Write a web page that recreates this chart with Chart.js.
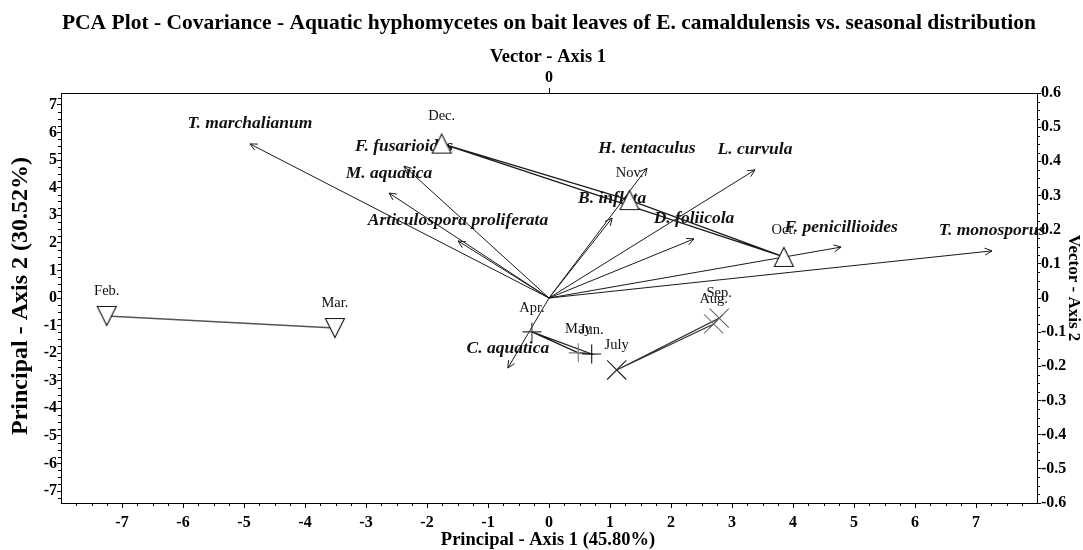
<!DOCTYPE html>
<html>
<head>
<meta charset="utf-8">
<script src="https://cdn.jsdelivr.net/npm/chart.js@4.4.1/dist/chart.umd.min.js"></script>
<style>
  html, body { margin: 0; padding: 0; background: #fff; }
  #wrap { width: 1083px; height: 550px; position: relative; }
</style>
</head>
<body>
<div id="wrap"><canvas id="c" width="1083" height="550"></canvas></div>
<script>
// ---- Data: sample scores (principal axes) ----
const autumnMonths = ['Dec.', 'Nov.', 'Oct.'];
const autumnAxis1 = [-1.76, 1.32, 3.85];
const autumnAxis2 = [5.60, 3.55, 1.49];

const winterMonths = ['Feb.', 'Mar.'];
const winterAxis1 = [-7.25, -3.51];
const winterAxis2 = [-0.65, -1.09];

const springMonths = ['Apr.', 'May', 'Jun.'];
const springAxis1 = [-0.28, 0.48, 0.70];
const springAxis2 = [-1.23, -1.99, -2.03];

const summerMonths = ['July', 'Aug.', 'Sep.'];
const summerAxis1 = [1.11, 2.70, 2.79];
const summerAxis2 = [-2.61, -0.94, -0.73];

// ---- Data: species vectors (vector axes) ----
const species = ['T. marchalianum', 'F. fusarioides', 'M. aquatica', 'Articulospora proliferata',
  'B. inflata', 'H. tentaculus', 'L. curvula', 'D. foliicola', 'F. penicillioides',
  'T. monosporus', 'C. aquatica'];
const vectorAxis1 = [-0.858, -0.416, -0.459, -0.261, 0.181, 0.281, 0.591, 0.416, 0.838, 1.271, -0.118];
const vectorAxis2 = [0.451, 0.386, 0.307, 0.167, 0.234, 0.380, 0.375, 0.173, 0.149, 0.138, -0.205];

// ---- Tick labels ----
const principalTicks1 = [-7, -6, -5, -4, -3, -2, -1, 0, 1, 2, 3, 4, 5, 6, 7];
const principalTicks2 = [-7, -6, -5, -4, -3, -2, -1, 0, 1, 2, 3, 4, 5, 6, 7];
const vectorTicks1 = [0];
const vectorTicks2 = [-0.6, -0.5, -0.4, -0.3, -0.2, -0.1, 0, 0.1, 0.2, 0.3, 0.4, 0.5, 0.6];

const titleText = 'PCA Plot - Covariance - Aquatic hyphomycetes on bait leaves of E. camaldulensis vs. seasonal distribution';

// ---- helpers ----
const SERIF = '"Liberation Serif", "Times New Roman", serif';
function pts(xs, ys) { return xs.map((x, i) => ({ x: x, y: ys[i] })); }
function closed(xs, ys) { const p = pts(xs, ys); if (p.length > 2) p.push(p[0]); return p; }

function triCanvas(up) {
  const c = document.createElement('canvas');
  c.width = 22; c.height = 22;
  const g = c.getContext('2d');
  g.fillStyle = '#fff'; g.strokeStyle = '#111'; g.lineWidth = 1.1;
  g.beginPath();
  if (up) { g.moveTo(11, 1.5); g.lineTo(20.5, 20.5); g.lineTo(1.5, 20.5); }
  else { g.moveTo(1.5, 1.5); g.lineTo(20.5, 1.5); g.lineTo(11, 20.5); }
  g.closePath(); g.fill(); g.stroke();
  return c;
}
const triUp = triCanvas(true);
const triDown = triCanvas(false);

const scaleFont = { family: SERIF, size: 16, weight: 'bold' };

const overlay = {
  id: 'overlay',
  beforeDraw(chart) {
    const ctx = chart.ctx;
    ctx.save(); ctx.fillStyle = '#fff'; ctx.fillRect(0, 0, chart.width, chart.height); ctx.restore();
  },
  beforeDatasetsDraw(chart) {
    const ctx = chart.ctx;
    const sx = chart.scales.x2, sy = chart.scales.y2;
    const ox = sx.getPixelForValue(0), oy = sy.getPixelForValue(0);
    ctx.save();
    ctx.strokeStyle = '#1a1a1a';
    ctx.lineWidth = 1;
    species.forEach((name, i) => {
      const tx = sx.getPixelForValue(vectorAxis1[i]);
      const ty = sy.getPixelForValue(vectorAxis2[i]);
      ctx.beginPath(); ctx.moveTo(ox, oy); ctx.lineTo(tx, ty); ctx.stroke();
      const ang = Math.atan2(ty - oy, tx - ox);
      const L = 8, a = 0.45;
      ctx.beginPath();
      ctx.moveTo(tx - L * Math.cos(ang - a), ty - L * Math.sin(ang - a));
      ctx.lineTo(tx, ty);
      ctx.lineTo(tx - L * Math.cos(ang + a), ty - L * Math.sin(ang + a));
      ctx.stroke();
    });
    // species labels
    ctx.fillStyle = '#111';
    ctx.font = 'italic bold 17.5px ' + SERIF;
    ctx.textAlign = 'center'; ctx.textBaseline = 'middle';
    species.forEach((name, i) => {
      const tx = sx.getPixelForValue(vectorAxis1[i]);
      const ty = sy.getPixelForValue(vectorAxis2[i]);
      ctx.fillText(name, tx, ty - 20);
    });
    // month labels
    const px = chart.scales.x, py = chart.scales.y;
    ctx.font = '14.5px ' + SERIF;
    const groups = [[autumnMonths, autumnAxis1, autumnAxis2, 27], [winterMonths, winterAxis1, winterAxis2, 25],
      [springMonths, springAxis1, springAxis2, 24], [summerMonths, summerAxis1, summerAxis2, 25]];
    groups.forEach(([labs, xs, ys, off]) => {
      labs.forEach((l, i) => ctx.fillText(l, px.getPixelForValue(xs[i]), py.getPixelForValue(ys[i]) - off));
    });
    ctx.restore();
  },
  afterDraw(chart) {
    const ctx = chart.ctx;
    const a = chart.chartArea;
    ctx.save();
    ctx.strokeStyle = '#000'; ctx.lineWidth = 1;
    // minor ticks
    const x = chart.scales.x, y = chart.scales.y, y2 = chart.scales.y2;
    ctx.beginPath();
    for (let v = -7.75; v <= 7.8; v += 0.25) {
      if (Math.abs(v - Math.round(v)) < 1e-6) continue;
      const p = Math.round(x.getPixelForValue(v)) + 0.5;
      ctx.moveTo(p, a.bottom); ctx.lineTo(p, a.bottom + 3);
    }
    for (let v = -7.25; v <= 7.3; v += 0.25) {
      if (Math.abs(v - Math.round(v)) < 1e-6) continue;
      const p = Math.round(y.getPixelForValue(v)) + 0.5;
      ctx.moveTo(a.left, p); ctx.lineTo(a.left - 3, p);
    }
    for (let k = -24; k <= 24; k++) {
      if (k % 4 === 0) continue;
      const p = Math.round(y2.getPixelForValue(k * 0.025)) + 0.5;
      ctx.moveTo(a.right, p); ctx.lineTo(a.right + 3, p);
    }
    ctx.stroke();
    // titles
    ctx.fillStyle = '#000';
    ctx.textAlign = 'center'; ctx.textBaseline = 'middle';
    ctx.font = 'bold 21.5px ' + SERIF;
    ctx.fillText(titleText, 549, 23);
    ctx.font = 'bold 18.5px ' + SERIF;
    ctx.fillText('Vector - Axis 1', 548, 57);
    ctx.fillText('Principal - Axis 1 (45.80%)', 548, 540);
    ctx.save(); ctx.translate(21, 296); ctx.rotate(-Math.PI / 2);
    ctx.font = 'bold 24px ' + SERIF;
    ctx.fillText('Principal - Axis 2 (30.52%)', 0, 0); ctx.restore();
    ctx.save(); ctx.translate(1073, 288); ctx.rotate(Math.PI / 2);
    ctx.font = 'bold 17px ' + SERIF;
    ctx.fillText('Vector - Axis 2', 0, 0); ctx.restore();
    ctx.restore();
  }
};

function axisCommon(extra) {
  return Object.assign({
    type: 'linear',
    grid: { drawOnChartArea: false, drawTicks: true, tickLength: 5, color: '#000', lineWidth: 1 },
    border: { display: true, color: '#000', width: 1 },
    ticks: { font: scaleFont, color: '#000', padding: 1, autoSkip: false, maxRotation: 0 }
  }, extra);
}

const markerBase = { pointBorderColor: '#111', pointBackgroundColor: '#fff', pointBorderWidth: 1.1, showLine: false, order: 0 };

new Chart(document.getElementById('c'), {
  type: 'scatter',
  data: {
    datasets: [
      Object.assign({ label: 'autumn', data: pts(autumnAxis1, autumnAxis2), pointStyle: triUp, pointRadius: 10 }, markerBase),
      Object.assign({ label: 'winter', data: pts(winterAxis1, winterAxis2), pointStyle: triDown, pointRadius: 10 }, markerBase),
      Object.assign({ label: 'spring', data: pts(springAxis1, springAxis2), pointStyle: 'cross', pointRadius: 9.5 }, markerBase,
        { pointBorderColor: ['#333', '#777', '#111'] }),
      Object.assign({ label: 'summer', data: pts(summerAxis1, summerAxis2), pointStyle: 'crossRot', pointRadius: 13.5 }, markerBase,
        { pointBorderColor: ['#222', '#777', '#666'] }),
      { label: 'autumnHull', data: closed(autumnAxis1, autumnAxis2), showLine: true, pointRadius: 0, borderColor: '#1a1a1a', borderWidth: 1.2, order: 1 },
      { label: 'winterHull', data: closed(winterAxis1, winterAxis2), showLine: true, pointRadius: 0, borderColor: '#555', borderWidth: 1.5, order: 1 },
      { label: 'springHull', data: closed(springAxis1, springAxis2), showLine: true, pointRadius: 0, borderColor: '#1a1a1a', borderWidth: 1.2, order: 1 },
      { label: 'summerHull', data: closed(summerAxis1, summerAxis2), showLine: true, pointRadius: 0, borderColor: '#333', borderWidth: 1.2, order: 1 }
    ]
  },
  options: {
    responsive: false,
    animation: false,
    layout: { padding: 0 },
    plugins: { legend: { display: false }, title: { display: false }, tooltip: { enabled: false } },
    scales: {
      x: axisCommon({
        position: 'bottom', min: -8, max: 8,
        afterBuildTicks: s => { s.ticks = principalTicks1.map(v => ({ value: v })); },
        afterFit: s => { s.height = 47; },
        ticks: { font: scaleFont, color: '#000', padding: 5, autoSkip: false, maxRotation: 0, callback: v => String(v) }
      }),
      y: axisCommon({
        position: 'left', min: -7.435, max: 7.435,
        afterBuildTicks: s => { s.ticks = principalTicks2.map(v => ({ value: v })); },
        afterFit: s => { s.width = 61; },
        grid: { drawOnChartArea: false, drawTicks: true, tickLength: 4, color: '#000' },
        ticks: { font: scaleFont, color: '#000', padding: 0, autoSkip: false, callback: v => String(v) }
      }),
      x2: axisCommon({
        position: 'top', min: -1.4, max: 1.4,
        afterBuildTicks: s => { s.ticks = vectorTicks1.map(v => ({ value: v })); },
        afterFit: s => { s.height = 93; },
        ticks: { font: scaleFont, color: '#000', padding: 1, autoSkip: false, maxRotation: 0, callback: v => String(v) }
      }),
      y2: axisCommon({
        position: 'right', min: -0.6, max: 0.6,
        afterBuildTicks: s => { s.ticks = vectorTicks2.map(v => ({ value: v })); },
        afterFit: s => { s.width = 46; },
        grid: { drawOnChartArea: false, drawTicks: true, tickLength: 4, color: '#000' },
        ticks: { font: scaleFont, color: '#000', padding: 0, autoSkip: false, callback: v => (v === 0 ? '0' : v.toFixed(1)) }
      })
    }
  },
  plugins: [overlay]
});
</script>
</body>
</html>
